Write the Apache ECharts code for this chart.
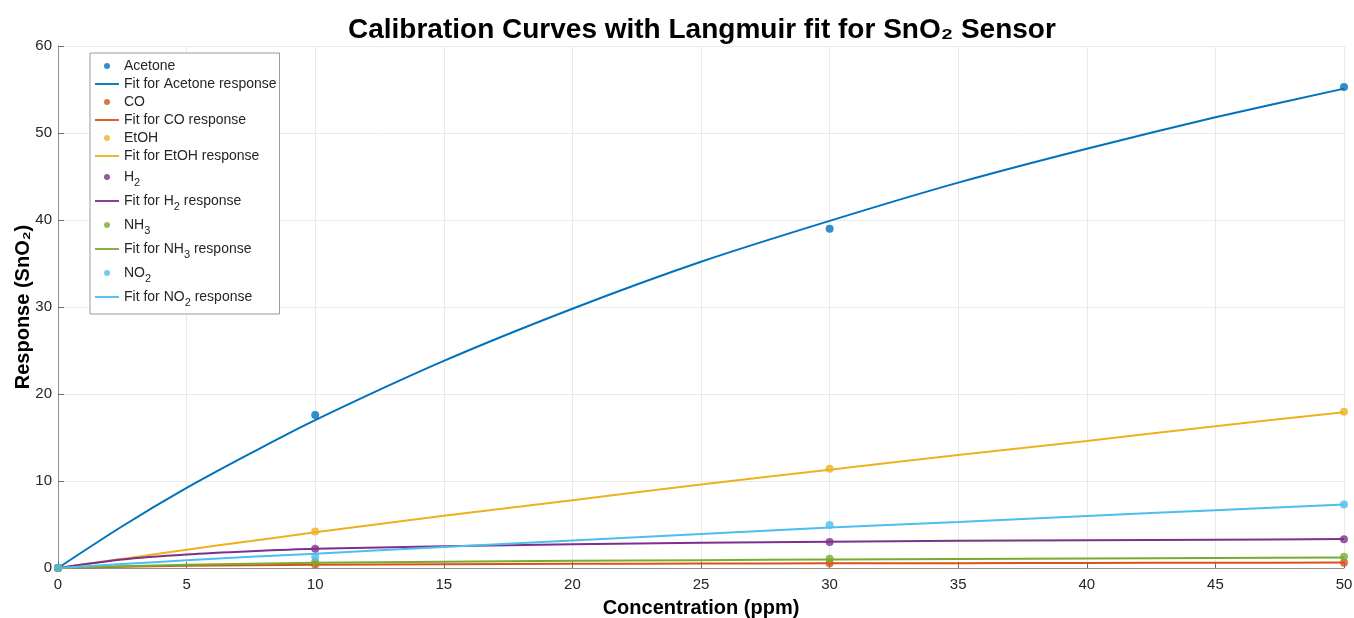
<!DOCTYPE html>
<html>
<head>
<meta charset="utf-8">
<title>Calibration Curves with Langmuir fit for SnO₂ Sensor</title>
<script src="https://cdn.jsdelivr.net/npm/echarts@6/dist/echarts.min.js"></script>
<style>
  html, body { margin: 0; padding: 0; background: #fff; }
  #chart { width: 1354px; height: 618px; }
</style>
</head>
<body>
<div id="chart"></div>
<script>
// Measured concentrations (ppm)
const concentrations = [0, 10, 30, 50];

// Measured responses per gas
const acetoneResp = [0, 17.6, 39.0, 55.3];
const coResp      = [0, 0.40, 0.55, 0.60];
const etohResp    = [0, 4.2, 11.4, 17.95];
const h2Resp      = [0, 2.2, 3.0, 3.3];
const nh3Resp     = [0, 0.7, 1.05, 1.3];
const no2Resp     = [0, 1.28, 4.95, 7.3];

// Langmuir fit curves, sampled along the concentration axis
const fitConc    = [0, 2.5, 5, 7.5, 10, 15, 20, 25, 30, 35, 40, 45, 50];
const acetoneFit = [0, 4.8, 9.2, 13.2, 17.0, 23.8, 29.8, 35.2, 39.9, 44.3, 48.2, 51.8, 55.1];
const coFit      = [0, 0.15, 0.26, 0.33, 0.38, 0.44, 0.48, 0.51, 0.54, 0.56, 0.58, 0.60, 0.62];
const etohFit    = [0, 1.05, 2.1, 3.1, 4.1, 6.0, 7.8, 9.6, 11.3, 13.0, 14.6, 16.3, 17.9];
const h2Fit      = [0, 0.98, 1.55, 1.92, 2.2, 2.5, 2.74, 2.9, 3.02, 3.12, 3.2, 3.26, 3.32];
const nh3Fit     = [0, 0.2, 0.38, 0.5, 0.6, 0.72, 0.82, 0.9, 0.97, 1.04, 1.1, 1.16, 1.22];
const no2Fit     = [0, 0.45, 0.88, 1.28, 1.65, 2.42, 3.15, 3.9, 4.65, 5.3, 5.98, 6.65, 7.3];

// Axis ticks
const xTicks = [0, 5, 10, 15, 20, 25, 30, 35, 40, 45, 50];
const yTicks = [0, 10, 20, 30, 40, 50, 60];

const gases = [
  { name: 'Acetone', color: '#0072BD', resp: acetoneResp, fit: acetoneFit },
  { name: 'CO',      color: '#D95319', resp: coResp,      fit: coFit },
  { name: 'EtOH',    color: '#EDB120', resp: etohResp,    fit: etohFit },
  { name: 'H2',      color: '#7E2F8E', resp: h2Resp,      fit: h2Fit },
  { name: 'NH3',     color: '#77AC30', resp: nh3Resp,     fit: nh3Fit },
  { name: 'NO2',     color: '#4DBEEE', resp: no2Resp,     fit: no2Fit }
];

const FONT = '"Liberation Sans", Arial, Helvetica, sans-serif';
// Thin horizontal bar used as the legend icon of fit lines
const LINE_ICON = 'path://M0,0H26V2H0Z';

const series = [];
const legendData = [];
gases.forEach(g => {
  const fitName = 'Fit for ' + g.name + ' response';
  legendData.push({ name: g.name, icon: 'circle' });
  legendData.push({ name: fitName, icon: LINE_ICON });
  series.push({
    name: g.name,
    type: 'scatter',
    symbol: 'circle',
    symbolSize: 8,
    itemStyle: { color: g.color },
    data: concentrations.map((c, i) => [c, g.resp[i]]),
    z: 3
  });
  series.push({
    name: fitName,
    type: 'line',
    symbol: 'none',
    smooth: 0.3,
    lineStyle: { color: g.color, width: 2 },
    itemStyle: { color: g.color },
    data: fitConc.map((c, i) => [c, g.fit[i]]),
    z: 2
  });
});

const chart = echarts.init(document.getElementById('chart'), null, { renderer: 'canvas' });

chart.setOption({
  animation: false,
  backgroundColor: '#ffffff',
  title: {
    text: 'Calibration Curves with Langmuir fit for SnO₂ Sensor',
    left: 343,
    top: 11,
    textStyle: { fontFamily: FONT, fontSize: 28, fontWeight: 'bold', color: '#000' }
  },
  grid: { left: 58, right: 10, top: 46, bottom: 50, outerBoundsMode: 'none' },
  legend: {
    orient: 'vertical',
    left: 90,
    top: 53,
    padding: [5, 3, 6, 5],
    itemGap: 2,
    itemWidth: 24,
    itemHeight: 6,
    backgroundColor: '#ffffff',
    borderColor: '#9a9a9a',
    borderWidth: 1,
    borderRadius: 0,
    data: legendData,
    formatter: name => name.replace(/([A-Z])(\d)/g, '$1{s|$2}'),
    textStyle: {
      fontFamily: FONT,
      fontSize: 14,
      lineHeight: 16,
      color: '#262626',
      rich: {
        s: { fontFamily: FONT, fontSize: 11, lineHeight: 12, color: '#262626', padding: [11, 0, 0, 0] }
      }
    }
  },
  xAxis: {
    type: 'value',
    min: 0,
    max: 50,
    interval: 5,
    name: 'Concentration (ppm)',
    nameLocation: 'middle',
    nameGap: 30,
    nameMoveOverlap: false,
    nameTextStyle: { fontFamily: FONT, fontSize: 20, fontWeight: 'bold', color: '#000' },
    axisLine: { show: true, onZero: false, lineStyle: { color: '#8f8f8f', width: 1 } },
    axisTick: { show: true, inside: true, length: 6, lineStyle: { color: '#6b6b6b' } },
    axisLabel: {
      margin: 9,
      fontFamily: FONT,
      fontSize: 15,
      color: '#262626',
      formatter: v => (xTicks.indexOf(v) >= 0 ? String(v) : '')
    },
    splitLine: { show: true, lineStyle: { color: '#e9e9e9', width: 1 } }
  },
  yAxis: {
    type: 'value',
    min: 0,
    max: 60,
    interval: 10,
    name: 'Response (SnO₂)',
    nameLocation: 'middle',
    nameGap: 25,
    nameMoveOverlap: false,
    nameTextStyle: { fontFamily: FONT, fontSize: 20, fontWeight: 'bold', color: '#000' },
    axisLine: { show: true, onZero: false, lineStyle: { color: '#8f8f8f', width: 1 } },
    axisTick: { show: true, inside: true, length: 6, lineStyle: { color: '#6b6b6b' } },
    axisLabel: {
      margin: 6,
      fontFamily: FONT,
      fontSize: 15,
      color: '#262626',
      formatter: v => (yTicks.indexOf(v) >= 0 ? String(v) : '')
    },
    splitLine: { show: true, lineStyle: { color: '#e9e9e9', width: 1 } }
  },
  series: series
});
</script>
</body>
</html>
